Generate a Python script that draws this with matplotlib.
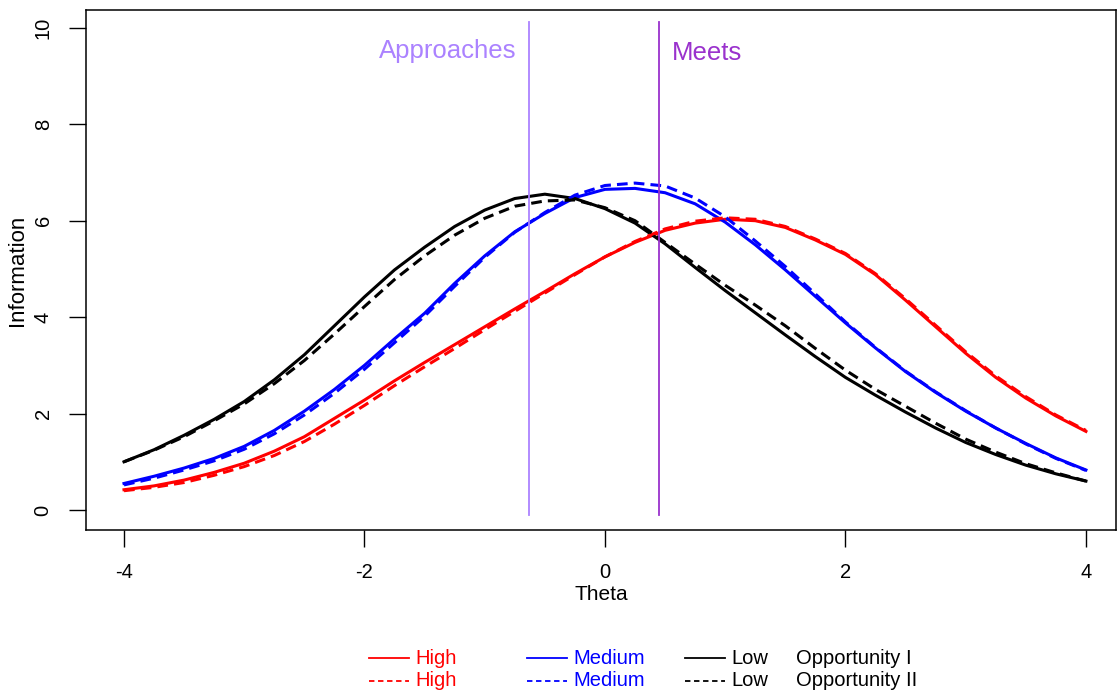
import numpy as np
import matplotlib
matplotlib.use("Agg")
import matplotlib.pyplot as plt
from matplotlib.lines import Line2D

plt.rcParams['font.family'] = ['Liberation Sans', 'DejaVu Sans']
plt.rcParams['axes.unicode_minus'] = False

# theta grid
theta = np.arange(-4, 4.01, 0.25)

# Opportunity I (solid)
high_1 = [0.42, 0.50, 0.62, 0.78, 0.97, 1.22, 1.52, 1.90, 2.28, 2.68, 3.06, 3.43, 3.80,
          4.17, 4.53, 4.90, 5.25, 5.55, 5.80, 5.95, 6.03, 6.00, 5.86, 5.60, 5.30, 4.88,
          4.35, 3.80, 3.25, 2.75, 2.32, 1.95, 1.63]
medium_1 = [0.55, 0.70, 0.87, 1.07, 1.32, 1.65, 2.05, 2.50, 3.00, 3.55, 4.08, 4.70, 5.27,
            5.77, 6.15, 6.48, 6.65, 6.67, 6.58, 6.35, 5.97, 5.50, 4.98, 4.43, 3.88, 3.36,
            2.87, 2.44, 2.05, 1.70, 1.38, 1.08, 0.83]
low_1 = [1.00, 1.25, 1.55, 1.88, 2.25, 2.70, 3.22, 3.82, 4.42, 4.98, 5.45, 5.88, 6.22,
         6.46, 6.55, 6.46, 6.25, 5.95, 5.52, 5.03, 4.55, 4.09, 3.63, 3.18, 2.75, 2.38,
         2.03, 1.70, 1.40, 1.15, 0.93, 0.75, 0.60]

# Opportunity II (dashed)
high_2 = [0.40, 0.47, 0.57, 0.72, 0.90, 1.13, 1.42, 1.78, 2.17, 2.58, 2.97, 3.35, 3.74,
          4.12, 4.50, 4.88, 5.25, 5.57, 5.83, 5.99, 6.06, 6.03, 5.88, 5.62, 5.32, 4.90,
          4.38, 3.83, 3.28, 2.78, 2.35, 1.97, 1.65]
medium_2 = [0.52, 0.66, 0.83, 1.02, 1.26, 1.58, 1.97, 2.42, 2.92, 3.47, 4.02, 4.64, 5.24,
            5.76, 6.17, 6.53, 6.73, 6.78, 6.72, 6.47, 6.08, 5.58, 5.05, 4.48, 3.90, 3.37,
            2.88, 2.45, 2.06, 1.70, 1.37, 1.07, 0.82]
low_2 = [1.00, 1.24, 1.52, 1.85, 2.20, 2.62, 3.10, 3.65, 4.22, 4.78, 5.27, 5.70, 6.05,
         6.30, 6.41, 6.43, 6.27, 6.00, 5.55, 5.10, 4.66, 4.25, 3.82, 3.35, 2.90, 2.50,
         2.15, 1.80, 1.47, 1.20, 0.96, 0.77, 0.60]

levels = ['High', 'Medium', 'Low']
colors = ['#FF0000', '#0000FF', '#000000']
opportunities = ['Opportunity I', 'Opportunity II']

cuts = [-0.632, 0.449]
cut_labels = ['Approaches', 'Meets']
cut_colors = ['#AB82FF', '#9A32CD']

fig = plt.figure(figsize=(11.18, 6.96), dpi=100)
ax = fig.add_axes([86 / 1118, 166 / 696, 1030 / 1118, 520 / 696])

dash = (0, (3.5, 2.0))
for ys, c in zip([high_1, medium_1, low_1], colors):
    ax.plot(theta, ys, color=c, lw=2.2, solid_joinstyle='round')
for ys, c in zip([high_2, medium_2, low_2], colors):
    ax.plot(theta, ys, color=c, lw=2.2, linestyle=dash)

# cut lines
for x, lab, c in zip(cuts, cut_labels, cut_colors):
    ax.plot([x, x], [-0.1, 10.12], color=c, lw=1.3)
ax.text(cuts[0] - 0.1, 9.52, cut_labels[0], color=cut_colors[0], fontsize=18.5,
        ha='right', va='center')
ax.text(cuts[1] + 0.11, 9.48, cut_labels[1], color=cut_colors[1], fontsize=18.5,
        ha='left', va='center')

ax.set_xlim(-4.316, 4.25)
ax.set_ylim(-0.415, 10.37)
ax.set_xticks([-4, -2, 0, 2, 4])
ax.set_yticks([0, 2, 4, 6, 8, 10])
ax.tick_params(axis='both', direction='out', length=12, width=1, labelsize=14.5, pad=12)
ax.tick_params(axis='y', labelrotation=90)
for lab in ax.get_yticklabels():
    lab.set_va('center')
for s in ax.spines.values():
    s.set_linewidth(1.1)
ax.set_xlabel('Theta', fontsize=15, labelpad=2)
ax.set_ylabel('Information', fontsize=16, labelpad=4)

# legend drawn below the plot, R style
lg = fig.add_axes([0, 0, 1, 1])
lg.set_xlim(0, 1118)
lg.set_ylim(696, 0)
lg.axis('off')
rows_y = [658, 681]
col_x = [369, 527, 685]
for i, (lev, c) in enumerate(zip(levels, colors)):
    x0 = col_x[i]
    for j, ls in enumerate(['-', (0, (3, 2))]):
        lg.add_line(Line2D([x0, x0 + 40], [rows_y[j], rows_y[j]], color=c, lw=1.3, linestyle=ls))
        lg.text(x0 + 46, rows_y[j], lev, color=c, fontsize=14.5, va='center', ha='left')
for j, opp in enumerate(opportunities):
    lg.text(796, rows_y[j], opp, color='black', fontsize=14.5, va='center', ha='left')

fig.savefig('out.png', dpi=100)
